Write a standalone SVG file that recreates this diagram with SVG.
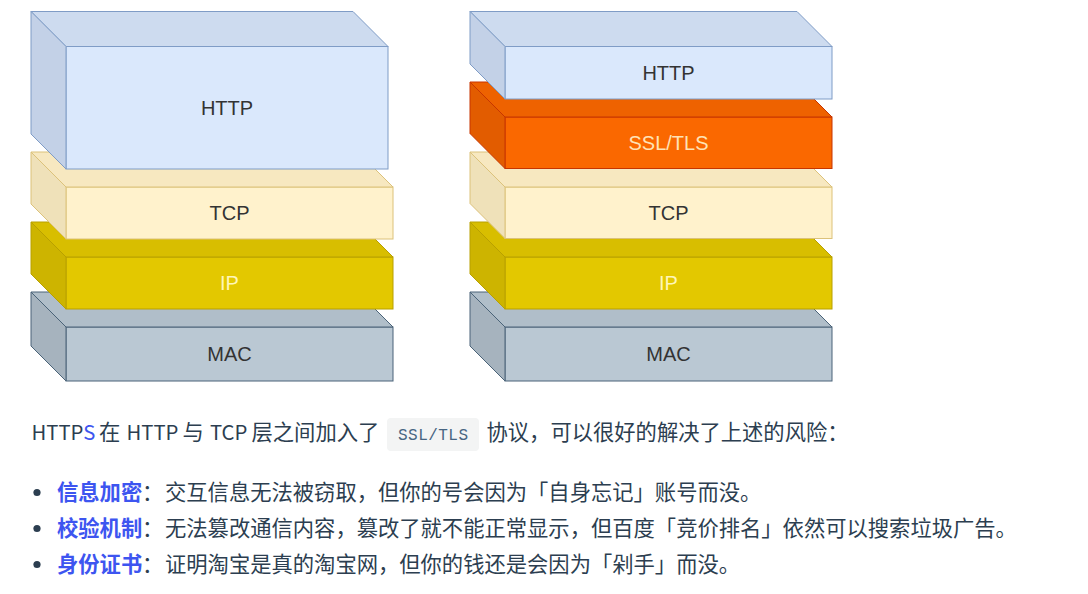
<svg xmlns="http://www.w3.org/2000/svg" width="1088" height="594" viewBox="0 0 1088 594">
<style>
  .lbl { font-family: "Liberation Sans", Arial, sans-serif; font-size: 20px; text-anchor: middle; fill: #333333; }
  .http .front { fill: #dae8fc; } .http .top { fill: #cddbef; } .http .side { fill: #c3d1e7; }
  .http polygon, .http rect { stroke: #7f9cc6; stroke-width: 1; }
  .tcp .front { fill: #fff2cc; } .tcp .top { fill: #f7e8c0; } .tcp .side { fill: #efe1b9; }
  .tcp polygon, .tcp rect { stroke: #dcc27a; stroke-width: 1; }
  .ip .front { fill: #e3c800; } .ip .top { fill: #d8be00; } .ip .side { fill: #cdb400; }
  .ip polygon, .ip rect { stroke: #b8a000; stroke-width: 1; }
  .mac .front { fill: #bac8d3; } .mac .top { fill: #b0bec9; } .mac .side { fill: #a6b3be; }
  .mac polygon, .mac rect { stroke: #4a6378; stroke-width: 1; }
  .ssl .front { fill: #fa6800; } .ssl .top { fill: #ee6200; } .ssl .side { fill: #e25c00; }
  .ssl polygon, .ssl rect { stroke: #c73500; stroke-width: 1; }
  .txt { font-family: "Noto Sans CJK SC", "Noto Sans", sans-serif; font-size: 21.3px; fill: #2c3e50; }
  .lat { font-size: 20.3px; }
  .blue { fill: #3d55f0; }
  .bold { font-weight: bold; fill: #3d55f0; }
  .code { font-family: "Liberation Mono", "DejaVu Sans Mono", monospace; font-size: 16px; fill: #476582; }
</style>
<rect width="1088" height="594" fill="#ffffff"/>

<!-- Left stack (bottom to top) -->
<g id="left-mac" class="mac">
  <rect class="front" x="66" y="327" width="327" height="54"/>
  <polygon class="top" points="31,292 358,292 393,327 66,327"/>
  <polygon class="side" points="31,292 66,327 66,381 31,346"/>
  <text class="lbl" x="229.5" y="361">MAC</text>
</g>
<g id="left-ip" class="ip">
  <rect class="front" x="66" y="257" width="327" height="52"/>
  <polygon class="top" points="31,222 358,222 393,257 66,257"/>
  <polygon class="side" points="31,222 66,257 66,309 31,274"/>
  <text class="lbl" x="229.5" y="290" style="fill:#fff6b8">IP</text>
</g>
<g id="left-tcp" class="tcp">
  <rect class="front" x="66" y="187" width="327" height="52"/>
  <polygon class="top" points="31,152 358,152 393,187 66,187"/>
  <polygon class="side" points="31,152 66,187 66,239 31,204"/>
  <text class="lbl" x="229.5" y="220">TCP</text>
</g>
<g id="left-http" class="http">
  <rect class="front" x="66" y="46.5" width="322" height="122.5"/>
  <polygon class="top" points="31,11.5 353,11.5 388,46.5 66,46.5"/>
  <polygon class="side" points="31,11.5 66,46.5 66,169 31,134"/>
  <text class="lbl" x="227" y="115">HTTP</text>
</g>

<!-- Right stack (bottom to top) -->
<g id="right-mac" class="mac">
  <rect class="front" x="505" y="327" width="327" height="54"/>
  <polygon class="top" points="470,292 797,292 832,327 505,327"/>
  <polygon class="side" points="470,292 505,327 505,381 470,346"/>
  <text class="lbl" x="668.5" y="361">MAC</text>
</g>
<g id="right-ip" class="ip">
  <rect class="front" x="505" y="257" width="327" height="52"/>
  <polygon class="top" points="470,222 797,222 832,257 505,257"/>
  <polygon class="side" points="470,222 505,257 505,309 470,274"/>
  <text class="lbl" x="668.5" y="290" style="fill:#fff6b8">IP</text>
</g>
<g id="right-tcp" class="tcp">
  <rect class="front" x="505" y="187" width="327" height="51.5"/>
  <polygon class="top" points="470,152 797,152 832,187 505,187"/>
  <polygon class="side" points="470,152 505,187 505,238.5 470,203.5"/>
  <text class="lbl" x="668.5" y="220">TCP</text>
</g>
<g id="right-ssl" class="ssl">
  <rect class="front" x="505" y="117" width="327" height="51.5"/>
  <polygon class="top" points="470,82 797,82 832,117 505,117"/>
  <polygon class="side" points="470,82 505,117 505,168.5 470,133.5"/>
  <text class="lbl" x="668.5" y="150" style="fill:#ffe2b5">SSL/TLS</text>
</g>
<g id="right-http" class="http">
  <rect class="front" x="505" y="46.5" width="327" height="52.5"/>
  <polygon class="top" points="470,11.5 797,11.5 832,46.5 505,46.5"/>
  <polygon class="side" points="470,11.5 505,46.5 505,99 470,64"/>
  <text class="lbl" x="668.5" y="80">HTTP</text>
</g>

<g id="connectors"></g>

<!-- Paragraph -->
<g id="paragraph">
  <text class="txt lat" x="31.5" y="440">HTTP<tspan class="blue">S</tspan></text>
  <text class="txt" x="99" y="440">在</text>
  <text class="txt lat" x="126.5" y="440">HTTP</text>
  <text class="txt" x="182.5" y="440">与</text>
  <text class="txt lat" x="210" y="440">TCP</text>
  <text class="txt" x="251.5" y="440">层之间加入了</text>
  <rect x="387" y="418" width="92" height="33" rx="4" fill="#f3f4f4"/>
  <text class="code" x="398" y="440" textLength="70" lengthAdjust="spacing">SSL/TLS</text>
  <text class="txt" x="486.5" y="440">协议，可以很好的解决了上述的风险：</text>
</g>

<!-- Bullet list -->
<g id="list">
  <circle cx="37" cy="492.5" r="3.6" fill="#2c3e50"/>
  <text class="txt bold" x="57" y="500">信息加密</text>
  <text class="txt" x="142" y="500">：</text>
  <text class="txt" x="165" y="500">交互信息无法被窃取，但你的号会因为「自身忘记」账号而没。</text>

  <circle cx="37" cy="528.5" r="3.6" fill="#2c3e50"/>
  <text class="txt bold" x="57" y="536">校验机制</text>
  <text class="txt" x="142" y="536">：</text>
  <text class="txt" x="165" y="536">无法篡改通信内容，篡改了就不能正常显示，但百度「竞价排名」依然可以搜索垃圾广告。</text>

  <circle cx="37" cy="564.5" r="3.6" fill="#2c3e50"/>
  <text class="txt bold" x="57" y="572">身份证书</text>
  <text class="txt" x="142" y="572">：</text>
  <text class="txt" x="165" y="572">证明淘宝是真的淘宝网，但你的钱还是会因为「剁手」而没。</text>
</g>
</svg>
